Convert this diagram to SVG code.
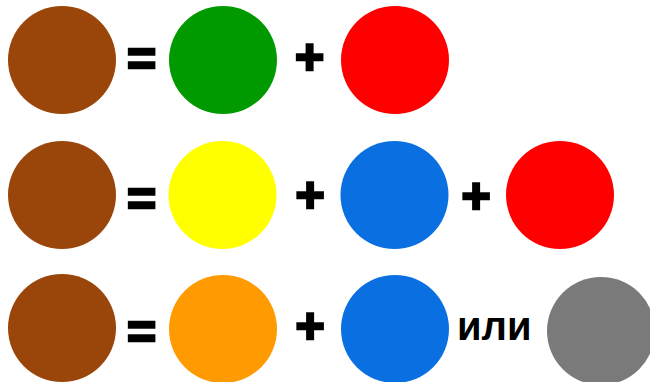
<svg xmlns="http://www.w3.org/2000/svg" width="650" height="382" viewBox="0 0 650 382">
<style>
.op{font-family:"Liberation Sans",Arial,sans-serif;font-weight:bold;font-size:50px;fill:#000;stroke:#000;stroke-width:2.5;text-anchor:middle}
.word{font-family:"Liberation Sans",Arial,sans-serif;font-weight:bold;font-size:40px;fill:#000}
.brown{fill:#9a450a}
</style>
<rect width="650" height="382" fill="#ffffff"/>
<g id="row1">
<circle id="r1-brown" class="brown" cx="62" cy="60" r="54"/>
<text id="r1-eq" class="op" x="141.5" y="76">=</text>
<circle id="r1-green" cx="223" cy="60" r="54" fill="#009a00"/>
<text id="r1-plus1" class="op" x="309.5" y="73.5">+</text>
<circle id="r1-red" cx="395" cy="60" r="54" fill="#ff0000"/>
</g>
<g id="row2">
<circle id="r2-brown" class="brown" cx="62" cy="195" r="54"/>
<text id="r2-eq" class="op" x="141.5" y="216">=</text>
<circle id="r2-yellow" cx="222.5" cy="195" r="54" fill="#ffff00"/>
<text id="r2-plus1" class="op" x="310" y="212">+</text>
<circle id="r2-blue" cx="394.5" cy="195" r="54" fill="#0a70e2"/>
<text id="r2-plus2" class="op" x="476" y="213">+</text>
<circle id="r2-red" cx="560" cy="195" r="54" fill="#ff0000"/>
</g>
<g id="row3">
<circle id="r3-brown" class="brown" cx="62" cy="328" r="54"/>
<text id="r3-eq" class="op" x="141.5" y="349">=</text>
<circle id="r3-orange" cx="223" cy="329" r="54" fill="#ff9a00"/>
<text id="r3-plus1" class="op" x="310" y="343">+</text>
<circle id="r3-blue" cx="395" cy="329" r="54" fill="#0a70e2"/>
<text id="r3-or" class="word" x="457" y="340">или</text>
<circle id="r3-gray" cx="601" cy="331" r="54" fill="#7a7a7a"/>
</g>
</svg>
